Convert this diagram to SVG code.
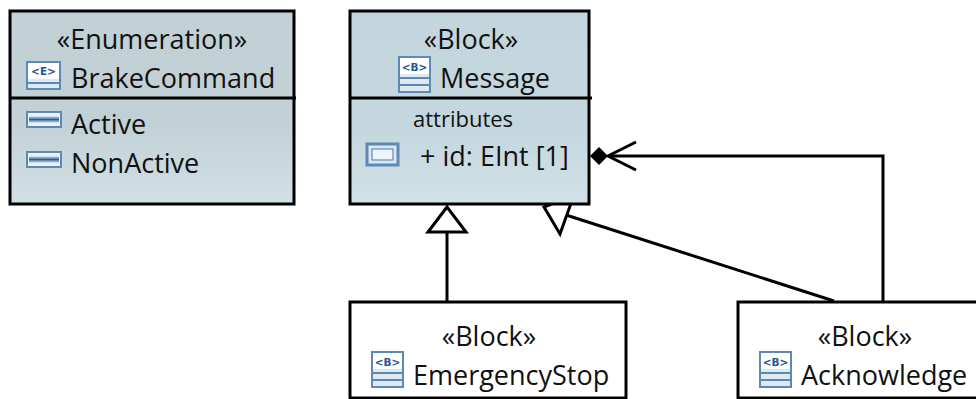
<svg xmlns="http://www.w3.org/2000/svg" width="976" height="399" viewBox="0 0 976 399">
<style>
.box{stroke:#000;stroke-width:3}
.div{stroke:#000;stroke-width:3;fill:none}
.t{font-family:"Open Sans","Noto Sans","Liberation Sans",sans-serif;font-size:27px;fill:#111;text-anchor:start}
.c{text-anchor:middle}
.ic{font-family:"DejaVu Sans",sans-serif;font-size:10.5px;font-weight:bold;fill:#27568f;text-anchor:middle}
.edge{stroke:#000;stroke-width:3;fill:none}
.tri{stroke:#000;stroke-width:3;fill:#fff}
.frame{fill:#dfe9f2;stroke:#5d8ab5;stroke-width:2}
.bar{fill:#5d8ab5}
</style>
<defs>
<linearGradient id="gE" x1="0" y1="0" x2="0" y2="1"><stop offset="0" stop-color="#c2d1d6"/><stop offset="0.55" stop-color="#c1d0d4"/><stop offset="1" stop-color="#d1e0e4"/></linearGradient>
<linearGradient id="gB" x1="0" y1="0" x2="0" y2="1"><stop offset="0" stop-color="#c3d6dd"/><stop offset="0.6" stop-color="#c4d7de"/><stop offset="1" stop-color="#d1e1e7"/></linearGradient>
<linearGradient id="gL" x1="0" y1="0" x2="0" y2="1"><stop offset="0" stop-color="#e8f0f7"/><stop offset="0.5" stop-color="#2f5f92"/><stop offset="1" stop-color="#e8f0f7"/></linearGradient>
<g id="iconB"><rect x="1" y="1" width="31" height="35" class="frame"/><rect x="2" y="2" width="29" height="16" fill="#fff"/><text x="16.5" y="14.5" class="ic">&lt;B&gt;</text><rect x="2" y="21" width="29" height="2" class="bar"/><rect x="2" y="28" width="29" height="2" class="bar"/></g>
<g id="iconLit"><rect x="1" y="1" width="34" height="15" fill="#eaf1f8" stroke="#5d8ab5" stroke-width="2"/><rect x="3" y="5" width="30" height="7" fill="url(#gL)"/></g>
</defs>
<g id="connectors">
<path class="edge" d="M447 301V232"/>
<path class="tri" d="M447 207L428 232H466Z"/>
<path class="edge" d="M834 301L566 215"/>
<path class="tri" d="M574 195L544 207L560 234Z"/>
<path class="edge" d="M883 301V156H610"/>
<path class="edge" d="M636 142L608 156L636 170"/>
<path d="M590 156L599 147L608 156L599 165Z" fill="#000"/>
</g>
<g id="BrakeCommand">
<rect class="box" x="10" y="11" width="284" height="193" fill="url(#gE)"/>
<path class="div" d="M10 98H296"/>
<text class="t c" x="152" y="49">«Enumeration»</text>
<rect x="27" y="62" width="33" height="27" class="frame"/><rect x="28" y="63" width="31" height="16" fill="#fff"/><text x="43.5" y="75" class="ic">&lt;E&gt;</text><rect x="28" y="82" width="31" height="2" class="bar"/>
<text class="t" x="71" y="88">BrakeCommand</text>
<use href="#iconLit" x="26" y="111"/>
<text class="t" x="71" y="134">Active</text>
<use href="#iconLit" x="26" y="151"/>
<text class="t" x="71" y="173">NonActive</text>
</g>
<g id="Message">
<rect class="box" x="350" y="11" width="239" height="193" fill="url(#gB)"/>
<path class="div" d="M350 98H592"/>
<text class="t c" x="471" y="49">«Block»</text>
<use href="#iconB" x="398" y="56"/>
<text class="t" x="440" y="88">Message</text>
<text class="t" x="413" y="127" style="font-size:22px">attributes</text>
<rect x="367" y="144" width="31" height="21" fill="#dbe8f3" stroke="#5d8ab5" stroke-width="3"/><rect x="372" y="149" width="21" height="11" fill="#eaf4fb" stroke="#4d7aa5" stroke-width="1"/>
<text class="t" x="420" y="166">+ id: EInt [1]</text>
</g>
<g id="EmergencyStop">
<rect class="box" x="350" y="302" width="276" height="96" fill="#fff"/>
<text class="t c" x="489" y="346">«Block»</text>
<use href="#iconB" x="371" y="351"/>
<text class="t" x="413" y="385">EmergencyStop</text>
</g>
<g id="Acknowledge">
<rect class="box" x="738" y="302" width="240" height="96" fill="#fff"/>
<text class="t c" x="865" y="346">«Block»</text>
<use href="#iconB" x="759" y="351"/>
<text class="t" x="801" y="385">Acknowledge</text>
</g>
</svg>
